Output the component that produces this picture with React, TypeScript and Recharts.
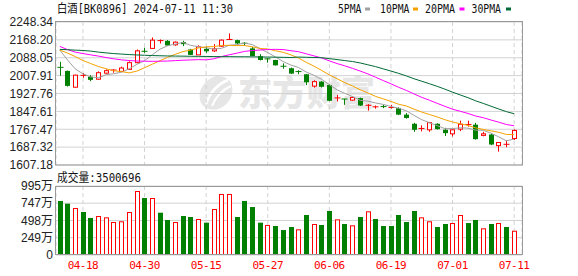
import React from 'react';
import {
  ComposedChart,
  Bar,
  Line,
  XAxis,
  YAxis,
  CartesianGrid,
} from 'recharts';

const RED = '#ff0000';
const GREEN = '#008000';
const MA_COLORS = {
  ma5: '#a0a0a0',
  ma10: '#f5a200',
  ma20: '#ff00ff',
  ma30: '#006a36',
} as const;

const DATES = [
  '04-15', '04-16', '04-17', '04-18', '04-19', '04-22', '04-23', '04-24', '04-25', '04-26', '04-29', '04-30',
  '05-06', '05-07', '05-08', '05-09', '05-10', '05-13', '05-14', '05-15', '05-16', '05-17', '05-20', '05-21',
  '05-22', '05-23', '05-24', '05-27', '05-28', '05-29', '05-30', '05-31',
  '06-03', '06-04', '06-05', '06-06', '06-07', '06-11', '06-12', '06-13', '06-14', '06-17', '06-18', '06-19',
  '06-20', '06-21', '06-24', '06-25', '06-26', '06-27', '06-28',
  '07-01', '07-02', '07-03', '07-04', '07-05', '07-08', '07-09', '07-10', '07-11',
];

const OPEN = [
  2045, 2029, 1956, 2006, 2003, 1992, 2019, 2028, 2027, 2036, 2066, 2117, 2130, 2163, 2164, 2146, 2158, 2125, 2101, 2128,
  2119, 2140, 2169, 2167, 2153, 2130, 2095, 2083, 2078, 2050, 2041, 2026, 2014, 1961, 1981, 1966, 1906, 1903, 1898, 1907,
  1873, 1866, 1869, 1863, 1862, 1833, 1792, 1770, 1765, 1792, 1765, 1747, 1768, 1786, 1788, 1740, 1744, 1694, 1698, 1726,
];
const HIGH = [
  2070, 2031, 2012, 2019, 2010, 2027, 2036, 2036, 2048, 2072, 2125, 2133, 2179, 2170, 2167, 2161, 2164, 2128, 2144, 2137,
  2149, 2170, 2197, 2169, 2158, 2137, 2104, 2086, 2079, 2063, 2044, 2032, 2015, 1987, 1983, 1969, 1922, 1904, 1913, 1909,
  1880, 1874, 1877, 1877, 1866, 1840, 1796, 1785, 1800, 1794, 1774, 1767, 1806, 1806, 1796, 1756, 1747, 1710, 1717, 1767,
];
const LOW = [
  2007, 1959, 1954, 1998, 1983, 1989, 2016, 2021, 2025, 2033, 2063, 2110, 2128, 2152, 2142, 2142, 2140, 2101, 2101, 2110,
  2114, 2136, 2169, 2146, 2142, 2094, 2076, 2066, 2053, 2039, 2015, 2014, 1966, 1954, 1955, 1893, 1892, 1877, 1895, 1872,
  1851, 1860, 1862, 1860, 1831, 1815, 1756, 1758, 1756, 1766, 1737, 1735, 1759, 1779, 1721, 1736, 1696, 1667, 1687, 1719,
];
const CLOSE = [
  2040, 1962, 2010, 2009, 1989, 2021, 2030, 2033, 2042, 2066, 2119, 2114, 2167, 2165, 2143, 2158, 2149, 2101, 2137, 2117,
  2128, 2167, 2170, 2152, 2150, 2096, 2078, 2080, 2054, 2047, 2017, 2023, 1978, 1981, 1958, 1895, 1908, 1900, 1910, 1874,
  1875, 1868, 1867, 1865, 1833, 1818, 1765, 1771, 1797, 1768, 1750, 1765, 1790, 1789, 1723, 1747, 1699, 1708, 1700, 1762,
];
// volume in 万
const VOLUME = [
  779, 740, 678, 620, 534, 562, 543, 476, 486, 620, 923, 822, 822, 610, 505, 476, 562, 548, 519, 466,
  663, 880, 880, 548, 779, 692, 466, 433, 418, 360, 404, 370, 577, 447, 433, 635, 514, 447, 428, 548,
  630, 519, 418, 418, 577, 476, 635, 543, 486, 404, 447, 461, 577, 461, 505, 385, 447, 461, 404, 350,
];

const MA5 = [
  2122, 2078, 2038, 2016, 2002, 1998.3, 2011.9, 2016.5, 2023.1, 2038.5, 2058.1, 2074.9, 2101.7, 2126.3, 2141.8, 2149.5,
  2156.5, 2143.4, 2137.8, 2132.5, 2126.6, 2130.2, 2143.9, 2146.9, 2153.5, 2146.9, 2129.1, 2111.1, 2091.6, 2071, 2055.3,
  2044.3, 2024, 2009.3, 1991.5, 1967.2, 1944.2, 1928.5, 1914.3, 1897.5, 1893.4, 1885.4, 1878.8, 1869.8, 1861.6, 1850.2,
  1829.6, 1810.4, 1796.9, 1783.9, 1770.3, 1770.3, 1774.1, 1772.4, 1763.4, 1762.8, 1749.7, 1733.3, 1715.5, 1723.3,
];
const MA10 = [
  2122, 2109, 2093.4, 2075.6, 2062, 2049, 2038.6, 2029.7, 2026, 2020.3, 2028.2, 2043.4, 2059.1, 2074.7, 2090.2, 2103.8,
  2115.7, 2122.6, 2132.1, 2137.2, 2138.1, 2143.4, 2143.7, 2142.4, 2143, 2136.8, 2129.7, 2127.5, 2119.3, 2112.3, 2101.1,
  2086.7, 2067.6, 2050.5, 2031.3, 2011.3, 1994.3, 1976.3, 1961.8, 1944.5, 1930.3, 1914.8, 1903.7, 1892.1, 1879.6, 1871.8,
  1857.5, 1844.6, 1833.4, 1822.8, 1810.3, 1800, 1792.3, 1784.7, 1773.7, 1766.6, 1760, 1753.7, 1744, 1743.4,
];
const MA20 = [
  2138.8, 2124.6, 2113.4, 2106.8, 2101, 2095.6, 2089, 2083.2, 2078.7, 2075.6, 2073.4, 2072.5, 2072, 2072.5, 2073.4, 2075.2,
  2077, 2078.3, 2079.6, 2078.8, 2083.2, 2093.4, 2101.4, 2108.6, 2116.6, 2120.3, 2122.7, 2125.1, 2125.7, 2124.8, 2119.6,
  2115.1, 2105.7, 2096.5, 2087.2, 2074.1, 2062, 2051.9, 2040.6, 2028.4, 2015.7, 2000.8, 1985.7, 1971.3, 1955.5, 1941.6,
  1925.9, 1910.5, 1897.6, 1883.7, 1870.3, 1857.4, 1848, 1838.4, 1826.7, 1819.2, 1808.8, 1799.2, 1788.7, 1783.1,
];
const MA30 = [
  2125.5, 2124.1, 2122.3, 2120.6, 2117.9, 2113.4, 2109.9, 2106.8, 2104.5, 2102.3, 2100.5, 2099.2, 2097.9, 2097, 2096.1,
  2095.6, 2095.2, 2094.7, 2094.3, 2093.8, 2093.4, 2093, 2093, 2092.5, 2092.5, 2092.1, 2091.6, 2091.2, 2090.7, 2089.9,
  2089.1, 2091.2, 2090.1, 2089.2, 2088.2, 2084, 2079.9, 2075.5, 2071.1, 2064.7, 2056.5, 2048.3, 2038.3, 2028.3, 2018,
  2006.6, 1993.8, 1982.8, 1971.5, 1959.9, 1947.2, 1933.8, 1921.2, 1909.1, 1894.9, 1883.2, 1870.6, 1858.2, 1846.4, 1836.9,
];

const PRICE_TICKS = [1607.18, 1687.32, 1767.47, 1847.61, 1927.76, 2007.91, 2088.05, 2168.2, 2248.34];
const VOL_TICKS = [0, 249, 498, 747, 995];
const DATE_TICKS = ['04-18', '04-30', '05-15', '05-27', '06-06', '06-19', '07-01', '07-11'];

const LEGEND = [
  { label: '5PMA', key: 'ma5', x: 338, len: 23.5, sq: 365 },
  { label: '10PMA', key: 'ma10', x: 380, len: 29.5, sq: 413 },
  { label: '20PMA', key: 'ma20', x: 425, len: 30, sq: 459.5 },
  { label: '30PMA', key: 'ma30', x: 471.5, len: 29.5, sq: 506 },
] as const;

const rows = DATES.map((date, i) => ({
  date,
  open: OPEN[i],
  high: HIGH[i],
  low: LOW[i],
  close: CLOSE[i],
  range: [LOW[i], HIGH[i]],
  vol: VOLUME[i],
  volUp: i === 0 ? CLOSE[i] >= OPEN[i] : CLOSE[i] >= CLOSE[i - 1],
  ma5: MA5[i],
  ma10: MA10[i],
  ma20: MA20[i],
  ma30: MA30[i],
}));

const MONO = "'DejaVu Sans Mono', 'Noto Sans CJK SC', monospace";
const SANS = "'Liberation Sans', 'Noto Sans CJK SC', sans-serif";
const GRID = '#d2d2d2';

// eslint-disable-next-line @typescript-eslint/no-explicit-any
function Candle(props: any) {
  const { x, y, width, height, payload } = props;
  if (!payload || x == null) return null;
  const { open, close, high, low } = payload;
  const top = Math.min(y, y + height);
  const h = Math.abs(height);
  const k = high === low ? 0 : h / (high - low);
  const py = (v: number) => top + (high - v) * k;
  const cx = Math.round(x + width / 2) + 0.5;
  const up = close >= open;
  const color = up ? RED : GREEN;
  const bTop = py(Math.max(open, close));
  const bBot = py(Math.min(open, close));
  const yH = py(high);
  const yL = py(low);

  if (bBot - bTop < 1.2) {
    return (
      <g>
        <line x1={cx} x2={cx} y1={yH} y2={yL} stroke={color} />
        <line x1={cx - 3} x2={cx + 3} y1={bTop} y2={bTop} stroke={color} />
      </g>
    );
  }
  if (up) {
    return (
      <g>
        <line x1={cx} x2={cx} y1={yH} y2={bTop} stroke={color} />
        <line x1={cx} x2={cx} y1={bBot} y2={yL} stroke={color} />
        <rect x={cx - 2} y={bTop} width={4} height={bBot - bTop} fill="#fff" stroke={color} />
      </g>
    );
  }
  return (
    <g>
      <line x1={cx} x2={cx} y1={yH} y2={yL} stroke={color} />
      <rect x={cx - 2.5} y={bTop} width={5} height={bBot - bTop} fill={color} />
    </g>
  );
}

// eslint-disable-next-line @typescript-eslint/no-explicit-any
function VolBar(props: any) {
  const { x, y, width, height, payload } = props;
  if (!payload || x == null) return null;
  const top = Math.min(y, y + height);
  const bottom = top + Math.abs(height);
  const cx = Math.round(x + width / 2) + 0.5;
  if (payload.volUp) {
    return <rect x={cx - 2} y={top + 0.5} width={4} height={bottom - top - 1} fill="#fff" stroke={RED} />;
  }
  return <rect x={cx - 2.5} y={top} width={5} height={bottom - top} fill={GREEN} />;
}

const yTick = { fontSize: 12, fill: '#222', fontFamily: SANS };

export default function App() {
  return (
    <div style={{ position: 'absolute', left: 0, top: 0, width: 578, height: 276, background: '#fff', overflow: 'hidden' }}>
      <svg width={578} height={276} style={{ position: 'absolute', left: 0, top: 0 }}>
        <g fill="#e6e6e6">
          <path d="M216 76 C204 80 198 90 200 100 C202 108 210 111 218 109 C228 106 234 96 232 86 C231 80 226 76 216 76 Z" />
          <path d="M206 104 C210 92 218 84 228 80" stroke="#fff" strokeWidth={2.5} fill="none" />
          <path d="M212 106 C216 96 222 90 231 86" stroke="#fff" strokeWidth={2} fill="none" />
        </g>
        <text
          x={238}
          y={106}
          fontSize={35}
          fontWeight={900}
          fill="#e6e6e6"
          fontFamily="'Noto Sans CJK SC', sans-serif"
          textLength={137}
          lengthAdjust="spacingAndGlyphs"
        >
          东方财富
        </text>
      </svg>

      <div style={{ position: 'absolute', left: 0, top: 0 }}>
        <ComposedChart width={578} height={176} data={rows} margin={{ top: 22, right: 56, bottom: 11, left: 0 }}>
          <CartesianGrid vertical={false} stroke={GRID} />
          <CartesianGrid horizontal={false} stroke={GRID} strokeDasharray="4 3" />
          <XAxis dataKey="date" hide ticks={DATE_TICKS} interval={0} padding={{ left: 0, right: 4 }} />
          <YAxis
            domain={[1607.18, 2248.34]}
            ticks={PRICE_TICKS}
            interval={0}
            width={56}
            axisLine={false}
            tickLine={false}
            tickSize={0}
            tickMargin={3}
            tick={yTick}
            tickFormatter={(v: number) => v.toFixed(2)}
            allowDataOverflow
          />
          <Bar dataKey="range" barSize={5} shape={<Candle />} isAnimationActive={false} />
          {(['ma5', 'ma10', 'ma20', 'ma30'] as const).map((k) => (
            <Line
              key={k}
              type="linear"
              dataKey={k}
              stroke={MA_COLORS[k]}
              strokeWidth={1}
              dot={false}
              activeDot={false}
              isAnimationActive={false}
            />
          ))}
        </ComposedChart>
      </div>

      <div style={{ position: 'absolute', left: 0, top: 170 }}>
        <ComposedChart width={578} height={106} data={rows} margin={{ top: 16, right: 56, bottom: 0, left: 0 }}>
          <CartesianGrid vertical={false} stroke={GRID} />
          <CartesianGrid horizontal={false} stroke={GRID} strokeDasharray="4 3" />
          <XAxis
            dataKey="date"
            ticks={DATE_TICKS}
            interval={0}
            height={21}
            axisLine={false}
            tickLine={false}
            tickSize={0}
            tickMargin={6}
            padding={{ left: 0, right: 4 }}
            tick={{ fontSize: 11, fill: RED, fontFamily: MONO, letterSpacing: -0.5 }}
          />
          <YAxis
            domain={[0, 995]}
            ticks={VOL_TICKS}
            interval={0}
            width={56}
            axisLine={false}
            tickLine={false}
            tickSize={0}
            tickMargin={3}
            tick={yTick}
            tickFormatter={(v: number) => (v === 0 ? '0' : `${v}万`)}
            allowDataOverflow
          />
          <Bar dataKey="vol" barSize={5} shape={<VolBar />} isAnimationActive={false} />
        </ComposedChart>
      </div>

      <svg width={578} height={276} style={{ position: 'absolute', left: 0, top: 0, pointerEvents: 'none' }}>
        <rect x={55.5} y={21.5} width={467} height={143.5} fill="none" stroke="#9a9a9a" />
        <rect x={55.5} y={186.5} width={467} height={68} fill="none" stroke="#9a9a9a" />
        <text x={57} y={12.5} fontSize={12} fontFamily={MONO} fill="#111" textLength={176} lengthAdjust="spacingAndGlyphs">
          白酒[BK0896] 2024-07-11 11:30
        </text>
        {LEGEND.map((l) => (
          <g key={l.key}>
            <text x={l.x} y={12.5} fontSize={12} fontFamily={MONO} fill="#111" textLength={l.len} lengthAdjust="spacingAndGlyphs">
              {l.label}
            </text>
            <rect x={l.sq} y={7.5} width={5} height={3} fill={MA_COLORS[l.key]} />
          </g>
        ))}
        <text x={57} y={181.5} fontSize={12} fontFamily={MONO} fill="#111" textLength={84} lengthAdjust="spacingAndGlyphs">
          成交量:3500696
        </text>
      </svg>
    </div>
  );
}
